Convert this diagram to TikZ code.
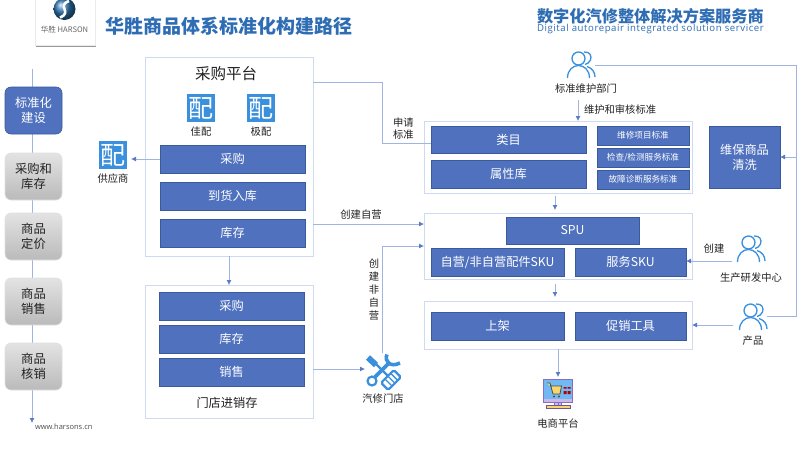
\documentclass[tikz,border=0pt]{standalone}
\usepackage{fontspec}
\setmainfont{Noto Sans CJK SC}
\newfontfamily\enfont{Open Sans}
\usetikzlibrary{arrows.meta,calc}
\definecolor{bluefill}{HTML}{4F71BE}
\definecolor{blueedge}{HTML}{3A5A9E}
\definecolor{paleedge}{HTML}{CFD9EF}
\definecolor{linec}{HTML}{9FB4E0}
\definecolor{arrowc}{HTML}{5B7BC8}
\definecolor{titleblue}{HTML}{2E6DB4}
\definecolor{iconblue}{HTML}{3A90DC}
\definecolor{txt}{HTML}{222222}
\definecolor{screenc}{HTML}{72B8F2}
\definecolor{purplec}{HTML}{8A6CC0}
\definecolor{lavc}{HTML}{CDB8EA}
\definecolor{goldc}{HTML}{F5D76E}
\tikzset{
  x=1pt,y=-1pt,
  every node/.style={inner sep=0pt,outer sep=0pt,text=txt,align=center},
  sized/.style 2 args={minimum width=#1pt,minimum height=#2pt},
  panel/.style={draw=paleedge,line width=1pt,fill=white,anchor=north west},
  bar/.style={draw=blueedge,line width=.5pt,fill=bluefill,text=white,anchor=north west,font=\fontsize{12.2}{14}\selectfont},
  smallbar/.style={bar,font=\fontsize{8.6}{10}\selectfont},
  stage/.style={draw=black!12,line width=.6pt,rounded corners=6pt,top color=black!11,bottom color=black!27,anchor=north west,font=\fontsize{12.3}{14.5}\selectfont},
  stageon/.style={draw=blueedge,line width=.6pt,rounded corners=6pt,fill=bluefill,text=white,anchor=north west,font=\fontsize{12.3}{14.5}\selectfont},
  lbl/.style={font=\fontsize{10.3}{12}\selectfont},
  conn/.style={draw=linec,line width=.8pt},
  arr/.style={conn,-{Latex[length=5pt,width=5pt,color=arrowc]}},
  peiicon/.style={fill=iconblue,text=white,minimum size=28pt,font=\fontsize{25}{25}\selectfont},
}
\newcommand{\person}[2]{%
  \begin{scope}[shift={(#1,#2)},draw=iconblue,line width=1.3pt]
    \draw (-2.5,-6.5) circle[radius=6.5];
    \draw (-13.5,13) .. controls (-13.5,5) and (-8,0.5) .. (-2.5,0.5) .. controls (3,0.5) and (8.5,5) .. (8.5,13);
    \draw (3,-13) .. controls (9,-13.5) and (11,-9) .. (9.5,-5) .. controls (8.5,-2.5) and (6,-1) .. (4,-0.5);
    \draw (6,1.5) .. controls (11,3) and (14,7) .. (14,12);
  \end{scope}}
\begin{document}
\begin{tikzpicture}
\useasboundingbox (0,0) rectangle (800,448);
\fill[white] (0,0) rectangle (800,448);

% logo
\fill[black!40] (36,0) rectangle (96,47);
\node[fill=white,draw=black!8,anchor=north west,sized={60}{46.5}] (logo) at (35,-1) {};
\shade[ball color=iconblue!80!black] (64.5,9) circle[radius=11];
\draw[white,line width=2.6pt] (69,1) .. controls (56,6) and (73,12) .. (60,17.5);
\node[font=\fontsize{7.6}{9}\selectfont,text=black!60] (logot) at (64.5,30) {华胜 HARSON};

% titles
\node[anchor=west,font=\fontsize{19}{21}\selectfont\bfseries,text=titleblue] (title) at (105,26) {华胜商品体系标准化构建路径};
\node[anchor=west,font=\fontsize{16.2}{18}\selectfont\bfseries,text=titleblue] (title2) at (537,16) {数字化汽修整体解决方案服务商};
\node[anchor=west,font=\enfont\fontsize{9.6}{11}\selectfont,text=titleblue] (title3) at (537,29) {\addfontfeature{LetterSpace=6}Digital autorepair integrated solution servicer};

% timeline
\coordinate (ttop) at (32,69);
\coordinate (tend) at (32,423);
\draw[arr] (ttop) -- (tend);
\node[stageon,sized={57}{47}] (s1) at (5,87) {标准化\\建设};
\node[stage,sized={57}{47}] (s2) at (5,153) {采购和\\库存};
\node[stage,sized={57}{47}] (s3) at (5,213) {商品\\定价};
\node[stage,sized={57}{47}] (s4) at (5,278) {商品\\销售};
\node[stage,sized={57}{47}] (s5) at (5,343) {商品\\核销};
\node[anchor=west,font=\enfont\fontsize{7.5}{9}\selectfont,text=black!70] (web) at (35,427) {www.harsons.cn};

% purchase platform
\node[panel,sized={168}{199}] (plat) at (145,57) {};
\node[font=\fontsize{15.5}{17}\selectfont] (platt) at (226,74) {采购平台};
\node[peiicon] (p1) at (201,108) {配};
\node[peiicon] (p2) at (261,108) {配};
\node[lbl] (p1l) at (201,132) {佳配};
\node[lbl] (p2l) at (261,132) {极配};
\node[bar,sized={145}{28}] (b1) at (160,145) {采购};
\node[bar,sized={145}{28}] (b2) at (160,182) {到货入库};
\node[bar,sized={145}{28}] (b3) at (160,219) {库存};
\node[peiicon] (supp) at (113,155) {配};
\node[lbl] (supl) at (113,179) {供应商};
\coordinate (suppin) at (131,159);
\draw[arr] (b1.west |- suppin) -- (suppin);

% store
\node[panel,sized={168}{133}] (store) at (145,285) {};
\node[bar,sized={145}{28}] (c1) at (159,292) {采购};
\node[bar,sized={145}{28}] (c2) at (159,325) {库存};
\node[bar,sized={145}{28}] (c3) at (159,358) {销售};
\node[font=\fontsize{12.2}{14}\selectfont] (storet) at (227,403) {门店进销存};
\coordinate (pdown) at (229,256);
\draw[arr] (pdown) -- (store.north -| pdown);

% tools icon
\coordinate (tool) at (383,370);
\begin{scope}[shift={(tool)}]
  \draw[iconblue,line width=2.4pt] (-7,-6) -- (5,6);
  \draw[iconblue,line width=6pt] (-15,-12.5) -- (-7,-5);
  \draw[iconblue,line width=3.8pt] (-8,7) -- (7,-8);
  \draw[iconblue,line width=2.2pt,fill=white] (-11,11) circle[radius=4.5];
  \draw[iconblue,line width=3.6pt] (4,-15.5) .. controls (1,-9) and (7,-2) .. (17,-7);
  \begin{scope}[shift={(8,10)},rotate=45]
    \draw[iconblue,line width=2.2pt,fill=white,rounded corners=1.5pt] (-9,-5) rectangle (9,5);
    \draw[iconblue,line width=1.3pt] (-3.5,-5) -- (-3.5,5) (0.5,-5) -- (0.5,5) (4.5,-5) -- (4.5,5);
  \end{scope}
\end{scope}
\node[lbl] (toollb) at (383,399) {汽修门店};
\coordinate (toolin) at (365,369);
\coordinate (toolup) at (382,353);
\draw[arr] (store.east |- toolin) -- (toolin);

% category panel
\node[panel,sized={268}{72}] (cat) at (424,121) {};
\node[bar,sized={155}{27}] (cat1) at (431,126) {类目};
\node[bar,sized={155}{28}] (cat2) at (431,160) {属性库};
\node[smallbar,sized={92}{19}] (st1) at (597,126) {维修项目标准};
\node[smallbar,sized={92}{19}] (st2) at (597,148) {检查/检测服务标准};
\node[smallbar,sized={92}{19}] (st3) at (597,170) {故障诊断服务标准};

% SPU panel
\node[panel,sized={268}{66}] (spu) at (424,213) {};
\node[bar,sized={133}{27}] (spu1) at (506,217) {SPU};
\node[bar,sized={133}{28}] (sku1) at (431,248) {自营/非自营配件SKU};
\node[bar,sized={111}{28}] (sku2) at (575,248) {服务SKU};

% shelf panel
\node[panel,sized={268}{48}] (shelf) at (424,301) {};
\node[bar,sized={133}{28}] (sh1) at (431,312) {上架};
\node[bar,sized={111}{28}] (sh2) at (575,312) {促销工具};

% cleaning
\node[bar,sized={71}{62},font=\fontsize{12.2}{15}\selectfont] (clean) at (709,126) {维保商品\\清洗};

% persons
\person{581}{65}
\node[lbl] (stdl) at (586,89) {标准维护部门};
\node[lbl,anchor=west] (maint) at (584,110) {维护和审核标准};
\person{751}{249}
\node[lbl] (devl) at (751,278) {生产研发中心};
\node[lbl] (devc) at (714,249) {创建};
\person{753}{317}
\node[lbl] (prodl) at (753,341) {产品};

% ecommerce icon
\coordinate (eco) at (558,394);
\begin{scope}[shift={(eco)}]
  \draw[draw=purplec,line width=.8pt,fill=screenc] (-14.5,-14.5) rectangle (14.5,8);
  \fill[lavc] (-14,4.5) rectangle (14,7.6);
  \fill[lavc] (-3.5,8.5) rectangle (3.5,11);
  \draw[purplec,line width=.5pt] (-3.5,8.5) -- (-3.5,11) (0,8.5) -- (0,11) (3.5,8.5) -- (3.5,11);
  \draw[purplec!80!black,line width=.5pt,fill=goldc] (-12,11) rectangle (12,14);
  \draw[black!70,line width=.8pt,fill=goldc] (-11,-11) -- (-8,-11) -- (-5,0) -- (2,0) -- (3.5,-8) -- (-8,-8);
  \fill[black!70] (-4,2.5) circle[radius=1.2] (1,2.5) circle[radius=1.2];
  \fill[red!70!black] (5.5,-3) rectangle (8.5,0) (9.5,-3) rectangle (12.5,0);
  \fill[red!70!black] (5.5,-7) rectangle (8.5,-5.5) (9.5,-7) rectangle (12.5,-5.5);
\end{scope}
\node[lbl] (ecol) at (558,424) {电商平台};

% connectors
\coordinate (a1) at (382,82);
\coordinate (a2) at (382,143);
\draw[conn] (plat.east |- a1) -- (a1) -- (a2) -- (cat1.west |- a2);
\node[lbl,anchor=west] (apply) at (393,129) {申请\\标准};

\coordinate (selfy) at (425,224);
\draw[arr] (plat.east |- selfy) -- (spu.west |- selfy);
\node[lbl] (selfl) at (361,215) {创建自营};

\coordinate (nony) at (382,246);
\draw[conn] (toolup) -- (nony);
\draw[arr] (nony) -- (spu.west |- nony);
\node[lbl,text width=11pt,font=\fontsize{10.3}{13}\selectfont] (nonl) at (374,290) {创\\建\\非\\自\\营};

\coordinate (m1) at (578,100);
\draw[arr] (m1) -- (cat.north -| m1);
\coordinate (m2) at (555,196);
\coordinate (m2e) at (555,210);
\draw[arr] (m2) -- (m2e);
\coordinate (m3) at (555,284);
\coordinate (m3e) at (555,297);
\draw[arr] (m3) -- (m3e);
\coordinate (m4) at (558,349);
\coordinate (m4e) at (558,377);
\draw[arr] (m4) -- (m4e);

\coordinate (r1) at (595,65);
\coordinate (r2) at (796,65);
\coordinate (r3) at (796,316);
\coordinate (r4) at (767,316);
\coordinate (r5) at (796,157);
\draw[conn] (r1) -- (r2) -- (r3) -- (r4);
\draw[arr] (r5) -- (clean.east |- r5);

\coordinate (d1) at (732,261);
\draw[arr] (d1) -- (sku2.east |- d1);
\coordinate (d2) at (733,325);
\draw[arr] (d2) -- (spu.east |- d2);
\end{tikzpicture}
\end{document}
